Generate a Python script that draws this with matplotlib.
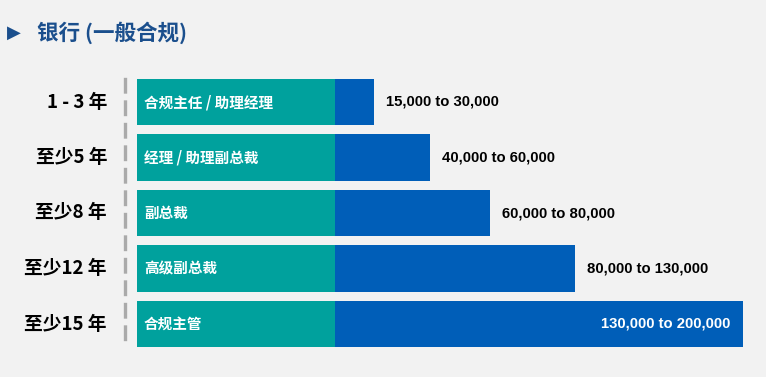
import matplotlib
matplotlib.use("Agg")
import matplotlib.pyplot as plt
import matplotlib.transforms as mtransforms

######## DATA ########
experience = ['1 - 3 年', '至少5 年', '至少8 年', '至少12 年', '至少15 年']
roles = ['合规主任 / 助理经理', '经理 / 助理副总裁', '副总裁', '高级副总裁', '合规主管']
salary_ranges = ['15,000 to 30,000', '40,000 to 60,000', '60,000 to 80,000',
                 '80,000 to 130,000', '130,000 to 200,000']
# bar lengths as drawn (teal part is the same for every row)
base_len = [198, 198, 198, 198, 198]
extra_len = [39, 95, 155, 240, 408]

######## STYLE ########
BG = '#f2f2f2'
TEAL = '#00a19d'
BLUE = '#005eb8'
TITLE_BLUE = '#1b4f8d'
CJK = ['Noto Sans CJK SC', 'DejaVu Sans']
plt.rcParams['font.family'] = CJK

W, H = 766, 377
fig = plt.figure(figsize=(W / 100, H / 100), dpi=100, facecolor=BG)

# axes placed so that it spans the bar area
ax = fig.add_axes([137 / W, (H - 351.75) / H, 623 / W, 277.5 / H])
ax.set_facecolor(BG)

y = list(range(len(experience)))
ax.barh(y, base_len, height=0.83, color=TEAL, linewidth=0)
ax.barh(y, extra_len, left=base_len, height=0.83, color=BLUE, linewidth=0)

ax.set_xlim(0, 623)
ax.set_ylim(len(experience) - 0.5, -0.5)

# role labels inside the teal part
for i, role in enumerate(roles):
    ax.text(7, i, role, color='white', fontsize=10.5, fontweight='bold',
            va='center', ha='left')

# salary labels
for i, txt in enumerate(salary_ranges):
    end = base_len[i] + extra_len[i]
    if i == len(salary_ranges) - 1:
        ax.text(end - 13, i, txt, color='white', fontsize=10.7, fontweight='bold',
                va='center', ha='right', family='Liberation Sans')
    else:
        ax.text(end + 12, i, txt, color='black', fontsize=10.7, fontweight='bold',
                va='center', ha='left', family='Liberation Sans')

# category labels, left of the dashed line
lbl_trans = mtransforms.offset_copy(ax.get_yaxis_transform(), fig=fig, x=-30, y=0, units='dots')
for i, lab in enumerate(experience):
    ax.text(0, i, lab, transform=lbl_trans, fontsize=13.5, fontweight='bold',
            color='black', va='center', ha='right')

ax.set_yticks([])
ax.set_xticks([])
for s in ['top', 'right', 'bottom']:
    ax.spines[s].set_visible(False)
ax.spines['left'].set_position(('outward', 8.64))
ax.spines['left'].set_color('#aaaaaa')
ax.spines['left'].set_linewidth(2.4)
ax.spines['left'].set_linestyle((0, (3.75, 3.0)))
ax.spines['left'].set_bounds(-0.415, 4.3)

# title
fig.text(7 / W, 1 - 33 / H, '\u25b6', color=TITLE_BLUE, fontsize=13,
         va='center', ha='left', family='DejaVu Sans')
fig.text(37 / W, 1 - 33 / H, '银行 (一般合规)', color=TITLE_BLUE, fontsize=15.5,
         fontweight='bold', va='center', ha='left')

fig.savefig('out.png', dpi=100, facecolor=BG)
